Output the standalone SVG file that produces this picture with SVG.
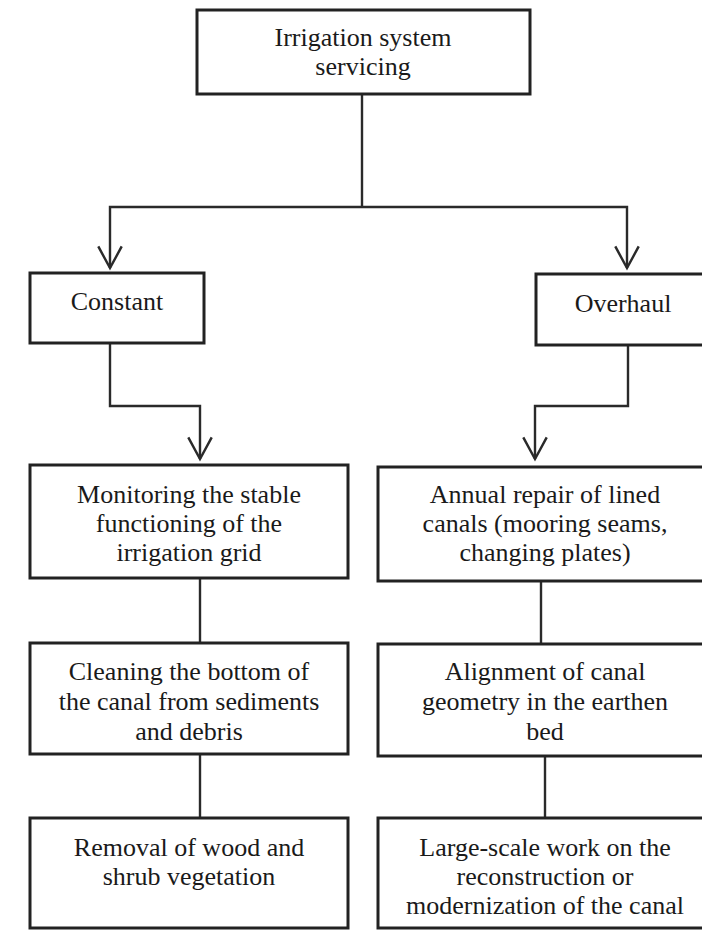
<svg xmlns="http://www.w3.org/2000/svg" width="702" height="930" viewBox="0 0 702 930">
  <style>
    .box { fill: #ffffff; stroke: #222222; stroke-width: 3; }
    .lbl { font-family: "Liberation Serif", "Times New Roman", serif; font-size: 26px; fill: #1a1a1a; text-anchor: middle; }
    .conn { fill: none; stroke: #2a2a2a; stroke-width: 2.4; }
  </style>
  <defs>
    <marker id="vArrow" markerUnits="userSpaceOnUse" orient="auto" refX="0" refY="0" markerWidth="30" markerHeight="30" viewBox="-30 -15 32 30" overflow="visible">
      <path d="M-23,-12.5 L0,0 L-23,12.5" fill="none" stroke="#2a2a2a" stroke-width="2.6"/>
    </marker>
  </defs>
  <rect x="0" y="0" width="702" height="930" fill="#ffffff"/>

  <g id="connectors">
    <polyline class="conn" points="362,95 362,207"/>
    <polyline class="conn" points="362,207 110,207 110,268" marker-end="url(#vArrow)"/>
    <polyline class="conn" points="362,207 627,207 627,268" marker-end="url(#vArrow)"/>
    <polyline class="conn" points="110,343 110,406 200,406 200,459" marker-end="url(#vArrow)"/>
    <polyline class="conn" points="628,345 628,406 535,406 535,459" marker-end="url(#vArrow)"/>
    <line class="conn" x1="200" y1="578" x2="200" y2="643"/>
    <line class="conn" x1="200" y1="754" x2="200" y2="818"/>
    <line class="conn" x1="541" y1="581" x2="541" y2="644"/>
    <line class="conn" x1="545" y1="756" x2="545" y2="818"/>
  </g>

  <g id="root">
    <rect class="box" x="197" y="10" width="333" height="84"/>
    <text class="lbl" x="363" y="46">Irrigation system</text>
    <text class="lbl" x="363" y="75">servicing</text>
  </g>

  <g id="constant">
    <rect class="box" x="30" y="273" width="174" height="70"/>
    <text class="lbl" x="117" y="310">Constant</text>
  </g>

  <g id="overhaul">
    <rect class="box" x="536" y="274" width="174" height="71"/>
    <text class="lbl" x="623" y="312">Overhaul</text>
  </g>

  <g id="monitoring">
    <rect class="box" x="30" y="465" width="318" height="113"/>
    <text class="lbl" x="189" y="503">Monitoring the stable</text>
    <text class="lbl" x="189" y="532">functioning of the</text>
    <text class="lbl" x="189" y="561">irrigation grid</text>
  </g>

  <g id="cleaning">
    <rect class="box" x="30" y="643" width="318" height="111"/>
    <text class="lbl" x="189" y="680">Cleaning the bottom of</text>
    <text class="lbl" x="189" y="710">the canal from sediments</text>
    <text class="lbl" x="189" y="740">and debris</text>
  </g>

  <g id="removal">
    <rect class="box" x="30" y="818" width="318" height="110"/>
    <text class="lbl" x="189" y="856">Removal of wood and</text>
    <text class="lbl" x="189" y="885">shrub vegetation</text>
  </g>

  <g id="annual">
    <rect class="box" x="378" y="467" width="332" height="114"/>
    <text class="lbl" x="545" y="503">Annual repair of lined</text>
    <text class="lbl" x="545" y="532">canals (mooring seams,</text>
    <text class="lbl" x="545" y="561">changing plates)</text>
  </g>

  <g id="alignment">
    <rect class="box" x="378" y="644" width="332" height="112"/>
    <text class="lbl" x="545" y="680">Alignment of canal</text>
    <text class="lbl" x="545" y="710">geometry in the earthen</text>
    <text class="lbl" x="545" y="740">bed</text>
  </g>

  <g id="largescale">
    <rect class="box" x="378" y="818" width="332" height="110"/>
    <text class="lbl" x="545" y="856">Large-scale work on the</text>
    <text class="lbl" x="545" y="885">reconstruction or</text>
    <text class="lbl" x="545" y="914">modernization of the canal</text>
  </g>
</svg>
